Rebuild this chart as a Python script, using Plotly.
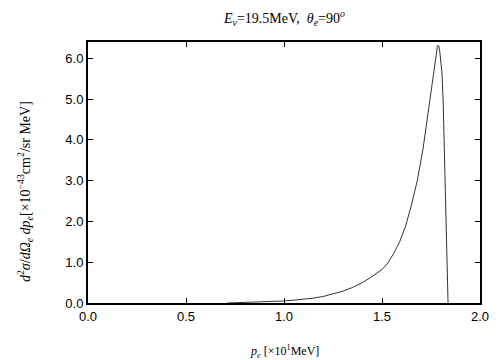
import plotly.graph_objects as go

p_e = [0.71, 0.8, 0.9, 1.0, 1.05, 1.1, 1.15, 1.2, 1.25, 1.3, 1.35, 1.4, 1.44, 1.47, 1.5,
       1.53, 1.56, 1.59, 1.62, 1.65, 1.68, 1.71, 1.73, 1.75, 1.765, 1.775, 1.782, 1.786,
       1.79, 1.795, 1.8, 1.806, 1.812, 1.818, 1.824, 1.83, 1.837]
xsec = [0.0, 0.01, 0.025, 0.05, 0.07, 0.09, 0.12, 0.16, 0.22, 0.29, 0.38, 0.5, 0.62, 0.72, 0.82,
        0.98, 1.22, 1.5, 1.88, 2.4, 3.0, 3.8, 4.5, 5.2, 5.75, 6.1, 6.27, 6.32,
        6.3, 6.15, 5.95, 5.64, 4.95, 3.9, 2.6, 1.3, 0.0]

x_ticks = [0.0, 0.5, 1.0, 1.5, 2.0]
y_ticks = [0.0, 1.0, 2.0, 3.0, 4.0, 5.0, 6.0]

fig = go.Figure()
fig.add_trace(go.Scatter(x=p_e, y=xsec, mode="lines",
                         line=dict(color="#333333", width=1), showlegend=False))

serif = "Liberation Serif, Times New Roman, serif"
sans = "Liberation Sans, Arial, sans-serif"

axis_common = dict(ticks="inside", ticklen=5, tickcolor="black", mirror="allticks",
                   showline=True, linecolor="black", linewidth=2, showgrid=False,
                   zeroline=False, automargin=False)

fig.update_layout(
    width=504, height=360,
    margin=dict(l=88, r=24, t=42, b=57),
    paper_bgcolor="white", plot_bgcolor="white",
    font=dict(family=sans, size=13, color="black"),
    xaxis=dict(range=[0, 2.0], tickvals=x_ticks, ticktext=[f"{v:.1f}" for v in x_ticks],
               **axis_common),
    yaxis=dict(range=[0, 6.4], tickvals=y_ticks, ticktext=[f"{v:.1f}" for v in y_ticks],
               **axis_common),
    annotations=[
        dict(text="<i>E</i><sub><i>ν</i></sub>=19.5MeV,  <i>θ</i><sub><i>e</i></sub>=90<sup><i>o</i></sup>",
             xref="paper", yref="paper", x=0.5, y=1.0, yshift=24, xanchor="center",
             yanchor="middle", showarrow=False, font=dict(family=serif, size=14)),
        dict(text="<i>p</i><sub><i>e</i></sub> [×10<sup>1</sup>MeV]",
             xref="paper", yref="paper", x=0.5, y=0.0, yshift=-48, xanchor="center",
             yanchor="middle", showarrow=False, font=dict(family=serif, size=12)),
        dict(text="<i>d</i><sup>2</sup><i>σ</i>/<i>d</i><i>Ω</i><sub><i>e</i></sub> <i>dp</i><sub><i>e</i></sub>[×10<sup>−43</sup>cm<sup>2</sup>/sr MeV]",
             xref="paper", yref="paper", x=0.0, y=0.425, xshift=-63, xanchor="center",
             yanchor="middle", textangle=-90, showarrow=False, font=dict(family=serif, size=14)),
    ],
)

fig.write_html("out.html", config={"displayModeBar": False},
               post_script="document.body.style.margin='0';")
